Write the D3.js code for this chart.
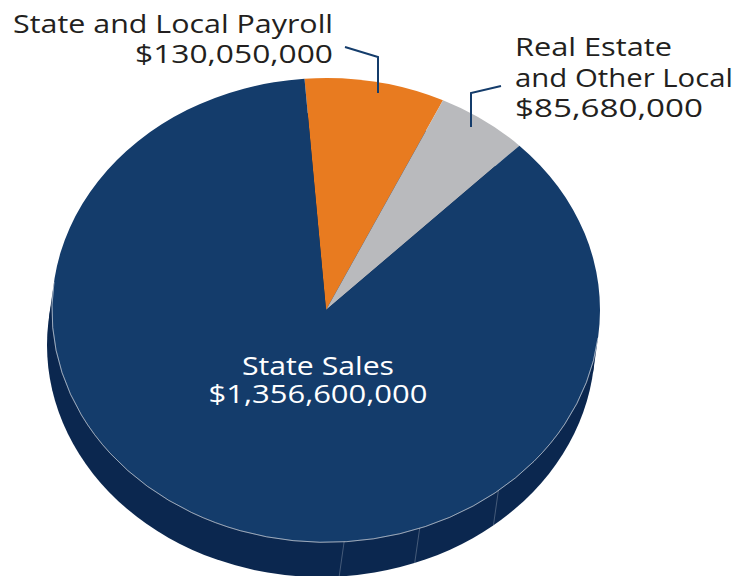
<!DOCTYPE html>
<html>
<head>
<meta charset="utf-8">
<script src="https://cdn.jsdelivr.net/npm/d3@7"></script>
<style>
  body { margin: 0; background: #fff; }
  svg { display: block; }
  text { font-family: "Open Sans", sans-serif; font-weight: 500; }
</style>
</head>
<body>
<div id="chart"></div>
<script>
// data
const categories = ["State and Local Payroll", "Real Estate and Other Local", "State Sales"];
const values = [130050000, 85680000, 1356600000];
const valueLabels = ["$130,050,000", "$85,680,000", "$1,356,600,000"];
const colors = ["#e87b20", "#b9babd", "#143c6b"];

const width = 748, height = 576;
const cx = 326, cy = 310, rx = 274, ry = 232;
const depth = [-5, 35];
const sideColor = "#0b274f";
const startDeg = -4.5;

const svg = d3.select("#chart").append("svg")
  .attr("width", width)
  .attr("height", height);

const rad = d => d * Math.PI / 180;
const pt = (a, off) => [cx + rx * Math.sin(a) + (off ? depth[0] : 0), cy - ry * Math.cos(a) + (off ? depth[1] : 0)];

// silhouette angles: where the ellipse tangent is parallel to the depth vector
let aR = Math.atan(rx * depth[1] / (ry * depth[0]));
if (Math.sin(aR) < 0) aR += Math.PI;
const aL = aR + Math.PI;

// side of the disc: bottom ellipse + band between silhouette points
const fullArc = d3.arc().innerRadius(0).outerRadius(rx).startAngle(0).endAngle(2 * Math.PI);

svg.append("path")
  .attr("transform", `translate(${cx + depth[0]},${cy + depth[1]}) scale(1,${ry / rx})`)
  .attr("d", fullArc())
  .attr("fill", sideColor);

svg.append("polygon")
  .attr("points", [pt(aR, false), pt(aL, false), pt(aL, true), pt(aR, true)].map(p => p.join(",")).join(" "))
  .attr("fill", sideColor);

// facet lines on the side
const facetDeg = [141, 160, 176.2];
svg.selectAll("line.facet")
  .data(facetDeg)
  .enter().append("line")
  .attr("class", "facet")
  .attr("x1", d => pt(rad(d), false)[0])
  .attr("y1", d => pt(rad(d), false)[1])
  .attr("x2", d => pt(rad(d), true)[0])
  .attr("y2", d => pt(rad(d), true)[1])
  .attr("stroke", "rgba(255,255,255,0.3)")
  .attr("stroke-width", 0.8);

// top face
const pie = d3.pie().sort(null)
  .startAngle(rad(startDeg))
  .endAngle(rad(startDeg) + 2 * Math.PI);
const arc = d3.arc().innerRadius(0).outerRadius(rx);

const topFace = svg.append("g")
  .attr("transform", `translate(${cx},${cy}) scale(1,${ry / rx})`);

topFace.selectAll("path.slice")
  .data(pie(values))
  .enter().append("path")
  .attr("class", "slice")
  .attr("d", arc)
  .attr("fill", (d, i) => colors[i]);

// light rim along the front edge
topFace.append("path")
  .attr("d", d3.arc().innerRadius(rx).outerRadius(rx).startAngle(aR).endAngle(aL)())
  .attr("fill", "none")
  .attr("stroke", "rgba(255,255,255,0.45)")
  .attr("stroke-width", 0.8)
  .attr("vector-effect", "non-scaling-stroke");

// leader lines
const leaders = [
  [[345, 47], [378, 57], [378, 93]],
  [[501, 86], [471, 93], [471, 127]]
];
svg.selectAll("polyline.leader")
  .data(leaders)
  .enter().append("polyline")
  .attr("class", "leader")
  .attr("points", d => d.map(p => p.join(",")).join(" "))
  .attr("fill", "none")
  .attr("stroke", "#143c6b")
  .attr("stroke-width", 2);

// labels (lines: text, x, y, width to fit)
const fs = 25.5;
function label(lines, anchor, fill) {
  const t = svg.append("text")
    .attr("text-anchor", anchor)
    .attr("fill", fill)
    .attr("font-size", fs);
  lines.forEach(l => {
    t.append("tspan")
      .attr("x", l[1]).attr("y", l[2])
      .attr("textLength", l[3])
      .attr("lengthAdjust", "spacingAndGlyphs")
      .text(l[0]);
  });
}
label([[categories[0], 333, 33, 320], [valueLabels[0], 333, 63, 198]], "end", "#231f20");
label([["Real Estate", 515, 56, 157], ["and Other Local", 515, 87, 218], [valueLabels[1], 515, 117, 188]], "start", "#231f20");
label([[categories[2], 318, 375, 152], [valueLabels[2], 318, 403, 219]], "middle", "#ffffff");
</script>
</body>
</html>
